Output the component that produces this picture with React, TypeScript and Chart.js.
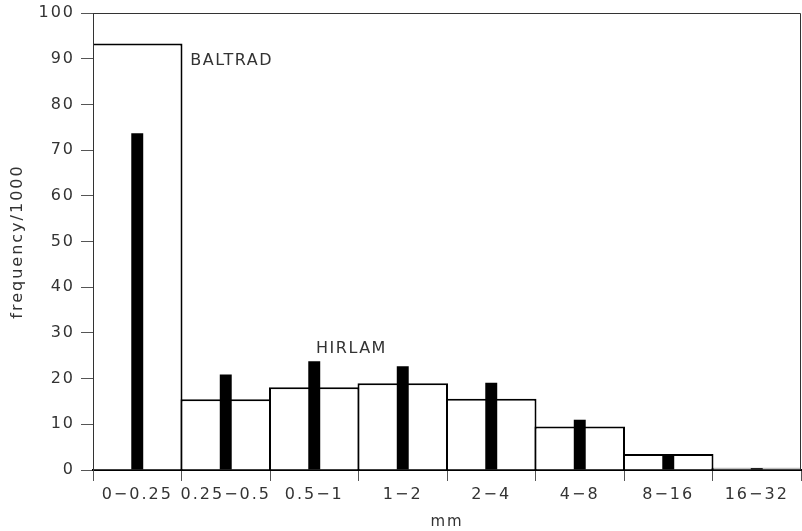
import React, { useEffect, useRef } from "react";
import { Chart, registerables } from "chart.js";

Chart.register(...registerables);

const categories = ["0\u22120.25", "0.25\u22120.5", "0.5\u22121", "1\u22122", "2\u22124", "4\u22128", "8\u221216", "16\u221232"];
const baltrad = [93.3, 15.5, 18.1, 19.0, 15.6, 9.5, 3.5, 0.5];
const hirlam = [73.7, 20.9, 23.8, 22.7, 19.1, 11.0, 3.1, 0.4];
const yTicks = [0, 10, 20, 30, 40, 50, 60, 70, 80, 90, 100];

const FONT = "'DejaVu Sans', sans-serif";
const TEXT = "#333";

const annotations = [
  { text: "BALTRAD", idx: 0.6, value: 89.6 },
  { text: "HIRLAM", idx: 2.02, value: 26.5 },
];

const framePlugin = {
  id: "frame",
  beforeDraw(chart: any) {
    chart.ctx.letterSpacing = "2px";
  },
  afterDatasetsDraw(chart: any) {
    const { ctx, chartArea: a, scales } = chart;
    ctx.save();
    ctx.strokeStyle = "#333";
    ctx.lineWidth = 1;
    ctx.beginPath();
    ctx.moveTo(a.left + 0.5, a.bottom);
    ctx.lineTo(a.left + 0.5, a.top + 0.5);
    ctx.lineTo(a.right - 0.5, a.top + 0.5);
    ctx.lineTo(a.right - 0.5, a.bottom);
    ctx.stroke();
    ctx.fillStyle = TEXT;
    ctx.font = "16px " + FONT;
    ctx.letterSpacing = "1.5px";
    ctx.textBaseline = "middle";
    ctx.textAlign = "left";
    const x0 = scales.x.getPixelForValue(0);
    const x1 = scales.x.getPixelForValue(1);
    for (const an of annotations) {
      const x = x0 + (x1 - x0) * an.idx;
      const y = scales.y.getPixelForValue(an.value);
      ctx.fillText(an.text, x, y);
    }
    ctx.restore();
  },
};

export default function App() {
  const ref = useRef<HTMLCanvasElement>(null);
  useEffect(() => {
    document.body.style.margin = "0";
    const chart = new Chart(ref.current!, {
      type: "bar",
      data: {
        labels: categories,
        datasets: [
          {
            label: "HIRLAM",
            data: hirlam,
            backgroundColor: "#000",
            borderWidth: 0,
            barPercentage: 0.135,
            categoryPercentage: 1,
            grouped: false,
            order: 0,
          },
          {
            label: "BALTRAD",
            data: baltrad,
            backgroundColor: "#fff",
            borderColor: "#000",
            borderWidth: 2,
            borderSkipped: "bottom",
            barPercentage: 1.0226,
            categoryPercentage: 1,
            grouped: false,
            order: 1,
          },
        ],
      },
      options: {
        animation: false,
        responsive: false,
        maintainAspectRatio: false,
        layout: { padding: { top: 13, right: 1, left: 0, bottom: 0 } },
        plugins: { legend: { display: false }, tooltip: { enabled: false } },
        scales: {
          x: {
            offset: true,
            grid: { offset: true, drawOnChartArea: false, tickLength: 11, color: "#555", lineWidth: 1 },
            border: { display: true, color: "#000", width: 2 },
            ticks: { color: TEXT, font: { family: FONT, size: 16 }, padding: 4, maxRotation: 0, autoSkip: false },
            title: { display: true, text: "mm", color: TEXT, font: { family: FONT, size: 15 }, padding: { top: 6, bottom: 0 } },
            afterFit(s: any) { s.height = 61; s.paddingLeft = 0; s.paddingRight = 0; },
          },
          y: {
            min: 0,
            max: 100,
            afterBuildTicks(s: any) { s.ticks = yTicks.map((v) => ({ value: v })); },
            grid: { drawOnChartArea: false, tickLength: 12, color: "#555", lineWidth: 1 },
            border: { display: true, color: "#444", width: 1 },
            ticks: { color: TEXT, font: { family: FONT, size: 16 }, padding: 6 },
            title: { display: true, text: "frequency/1000", color: TEXT, font: { family: FONT, size: 16 }, padding: { top: 8, bottom: 4 } },
            afterFit(s: any) { s.width = 93; s.paddingTop = 0; s.paddingBottom = 0; },
          },
        },
      },
      plugins: [framePlugin],
    });
    return () => chart.destroy();
  }, []);
  return (
    <div style={{ position: "fixed", left: 0, top: 0, width: 802, height: 531, background: "#fff" }}>
      <canvas ref={ref} width={802} height={531} style={{ width: 802, height: 531 }} />
    </div>
  );
}
